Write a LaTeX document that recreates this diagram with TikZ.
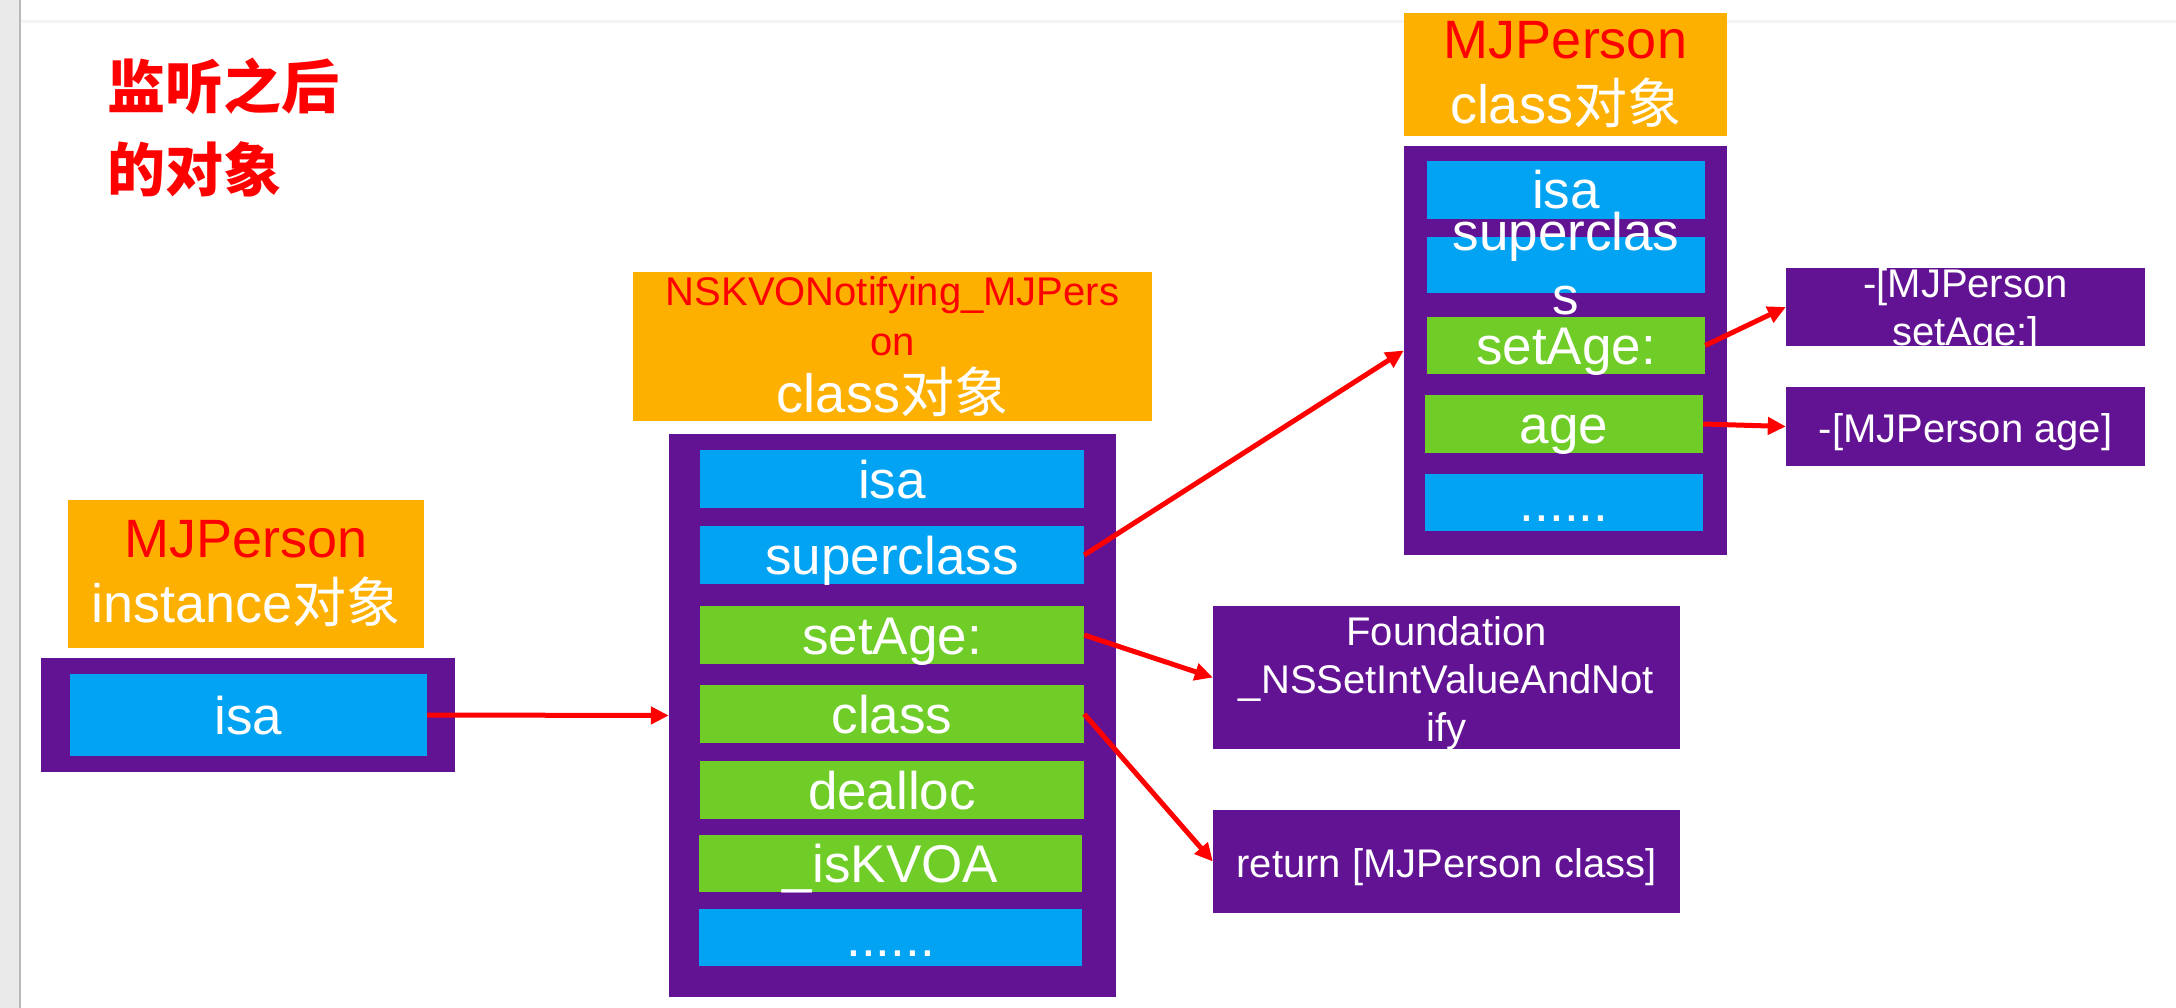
\documentclass[tikz,border=0pt]{standalone}
\usepackage{fontspec}
\setmainfont{Liberation Sans}
\newfontfamily\cjk{Noto Sans CJK SC}
\usetikzlibrary{arrows.meta}
\definecolor{headorange}{RGB}{254,176,0}
\definecolor{framepurple}{RGB}{98,19,148}
\definecolor{slotblue}{RGB}{2,163,242}
\definecolor{slotgreen}{RGB}{112,205,40}
\definecolor{chromegray}{RGB}{234,234,234}
\definecolor{chromeline}{RGB}{244,244,244}

\begin{document}
\begin{tikzpicture}[x=1pt,y=-1pt,
  boxsize/.style 2 args={minimum width=#1pt,minimum height=#2pt},
  header/.style={fill=headorange,text=white,inner sep=0pt,align=center,font=\fontsize{54}{65}\selectfont},
  objframe/.style={fill=framepurple,inner sep=0pt},
  slot/.style={text=white,inner sep=0pt,align=center,text height=45pt,text depth=7pt,font=\fontsize{53}{64}\selectfont},
  ptrslot/.style={slot,fill=slotblue},
  methslot/.style={slot,fill=slotgreen},
  imp/.style={fill=framepurple,text=white,inner sep=0pt,align=center,font=\fontsize{40}{48}\selectfont},
  ptr/.style={draw=red,line width=5pt,-{Triangle[length=18pt,width=17pt]}}]

\useasboundingbox[fill=white] (0,0) rectangle (2176,1008);
\fill[chromegray] (0,0) rectangle (19,1008);
\draw[gray!55,line width=2pt] (20,0) -- (20,1008);
\draw[chromeline,line width=3pt] (21,21.5) -- (2176,21.5);

\node[text=red,inner sep=0pt,align=left,anchor=west,font=\cjk\bfseries\fontsize{58}{83}\selectfont] (title) at (107,128) {监听之后\\的对象};

\node[header,boxsize={356}{148}] (instHead)  at ( 246  ,574  ) {\textcolor{red}{MJPerson}\\instance{\cjk 对象}};
\node[objframe,boxsize={414}{114}] (instFrame) at ( 248  ,715  ) {};
\node[ptrslot,boxsize={357}{82}]   (instIsa)   at ( 248.5,715  ) {isa};

\node[header,boxsize={519}{149},font=\fontsize{54}{57}\selectfont] (kvoHead) at (892.5,346.5)
  {\fontsize{40}{50}\selectfont\color{red}NSKVONotifying\_MJPers\\[-7pt]\fontsize{40}{50}\selectfont\color{red}on\\class{\cjk 对象}};
\node[objframe,boxsize={447}{563}] (kvoFrame)   at ( 892.5,715.5) {};
\node[ptrslot, boxsize={384}{58}]  (kvoIsa)     at ( 892  ,479  ) {isa};
\node[ptrslot, boxsize={384}{58}]  (kvoSuper)   at ( 892  ,555  ) {superclass};
\node[methslot,boxsize={384}{58}]  (kvoSetAge)  at ( 892  ,635  ) {setAge:};
\node[methslot,boxsize={384}{58}]  (kvoClass)   at ( 892  ,714  ) {class};
\node[methslot,boxsize={384}{58}]  (kvoDealloc) at ( 892  ,790  ) {dealloc};
\node[methslot,boxsize={383}{57}]  (kvoIsKVOA)  at ( 890.5,863.5) {\_isKVOA};
\node[ptrslot, boxsize={383}{57}]  (kvoMore)    at ( 890.5,937.5) {......};

\node[header,boxsize={323}{123}]   (clsHead)    at (1565.5, 74.5) {\textcolor{red}{MJPerson}\\class{\cjk 对象}};
\node[objframe,boxsize={323}{409}] (clsFrame)   at (1565.5,350.5) {};
\node[ptrslot, boxsize={278}{58}]  (clsIsa)     at (1566  ,190  ) {isa};
\node[ptrslot, boxsize={278}{56}]  (clsSuper)   at (1566  ,265  ) {\raisebox{-31pt}{\begin{tabular}[b]{@{}c@{}}superclas\\s\end{tabular}}};
\node[methslot,boxsize={278}{57}]  (clsSetAge)  at (1566  ,345.5) {setAge:};
\node[methslot,boxsize={278}{58}]  (clsAge)     at (1564  ,424  ) {age};
\node[ptrslot, boxsize={278}{57}]  (clsMore)    at (1564  ,502.5) {......};

\node[imp,boxsize={359}{78},text height=77pt,text depth=1pt]   (impSetAge) at (1965.5,307  ) {-[MJPerson\\setAge:]};
\node[imp,boxsize={359}{79},text height=40pt,text depth=8pt]   (impAge)    at (1965.5,426.5) {-[MJPerson age]};
\node[imp,boxsize={467}{143},text height=135pt,text depth=8pt] (notify)    at (1446.5,677.5) {Foundation\\\_NSSetIntValueAndNot\\ify};
\node[imp,boxsize={467}{103},text height=40pt,text depth=8pt]  (ret)       at (1446.5,861.5) {return [MJPerson class]};

\draw[ptr] (instIsa.east)   -- (kvoFrame.west);
\draw[ptr] (kvoSuper.east)  -- (clsFrame.west);
\draw[ptr] (kvoSetAge.east) -- (notify.west);
\draw[ptr] (kvoClass.east)  -- (ret.west);
\draw[ptr] (clsSetAge.east) -- (impSetAge.west);
\draw[ptr] (clsAge.east)    -- (impAge.west);
\end{tikzpicture}
\end{document}
